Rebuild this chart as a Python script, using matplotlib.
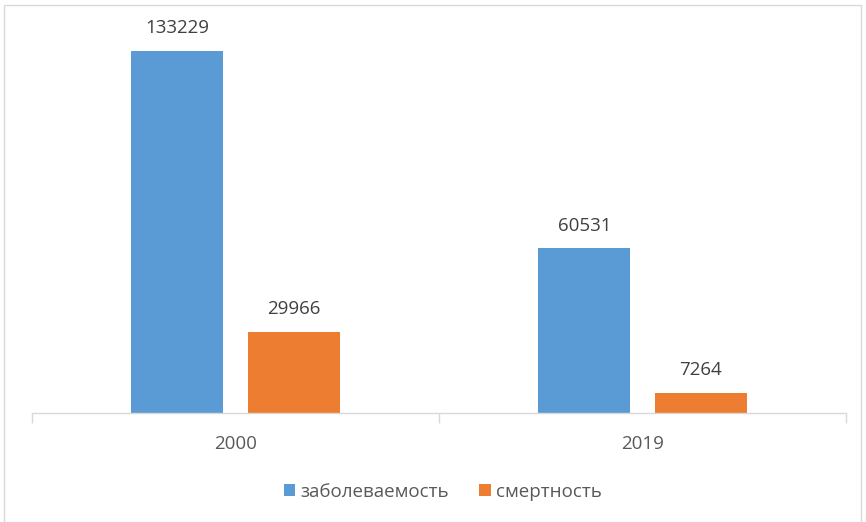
import matplotlib

matplotlib.use("Agg")
import matplotlib.pyplot as plt
import numpy as np
from matplotlib.patches import Rectangle

plt.rcParams["font.family"] = ["Open Sans", "DejaVu Sans"]

years = ["2000", "2019"]
series_names = ["заболеваемость", "смертность"]
morbidity = [133229, 60531]
mortality = [29966, 7264]

BLUE = "#5B9BD5"
ORANGE = "#ED7D31"
TEXT = "#595959"

fig = plt.figure(figsize=(8.66, 5.22), dpi=100)
W, H = 866, 522
ax = fig.add_axes([32 / W, (H - 413) / H, (846 - 32) / W, (413 - 20) / H])

x = np.arange(len(years))
width = 0.226
offset = 0.143
bars1 = ax.bar(x - offset, morbidity, width, color=BLUE, label=series_names[0])
bars2 = ax.bar(x + offset, mortality, width, color=ORANGE, label=series_names[1])

for bars in (bars1, bars2):
    for b in bars:
        ax.annotate(f"{int(b.get_height())}", (b.get_x() + b.get_width() / 2, b.get_height()),
                    xytext=(0, 10), textcoords="offset points", ha="center", va="bottom",
                    fontsize=13.5, color="#404040")

ax.set_xlim(-0.5, 1.5)
ax.set_ylim(0, 144600)
ax.set_yticks([])
for s in ["top", "right", "left"]:
    ax.spines[s].set_visible(False)
ax.spines["bottom"].set_color("#D9D9D9")
ax.spines["bottom"].set_linewidth(1.0)

ax.set_xticks([-0.5, 0.5, 1.5], minor=False)
ax.set_xticklabels([])
ax.tick_params(axis="x", which="major", length=7, color="#D9D9D9", width=1.0)
ax.set_xticks(x, minor=True)
ax.set_xticklabels(years, minor=True)
ax.tick_params(axis="x", which="minor", length=0, pad=16, labelsize=13.5, labelcolor=TEXT)

leg = fig.legend(handles=[bars1, bars2], labels=series_names, loc="center",
                 bbox_to_anchor=(443 / W, 1 - 492 / H), ncol=2, frameon=False,
                 fontsize=13.5, handlelength=0.6, handleheight=0.6, columnspacing=1.6,
                 handletextpad=0.3)
for t in leg.get_texts():
    t.set_color(TEXT)

fig.patches.append(Rectangle((4 / W, -0.01), (861 - 4) / W, 1 - 5 / H + 0.01,
                             transform=fig.transFigure, fill=False,
                             edgecolor="#D9D9D9", linewidth=1.0))

fig.savefig("out.png", dpi=100)
